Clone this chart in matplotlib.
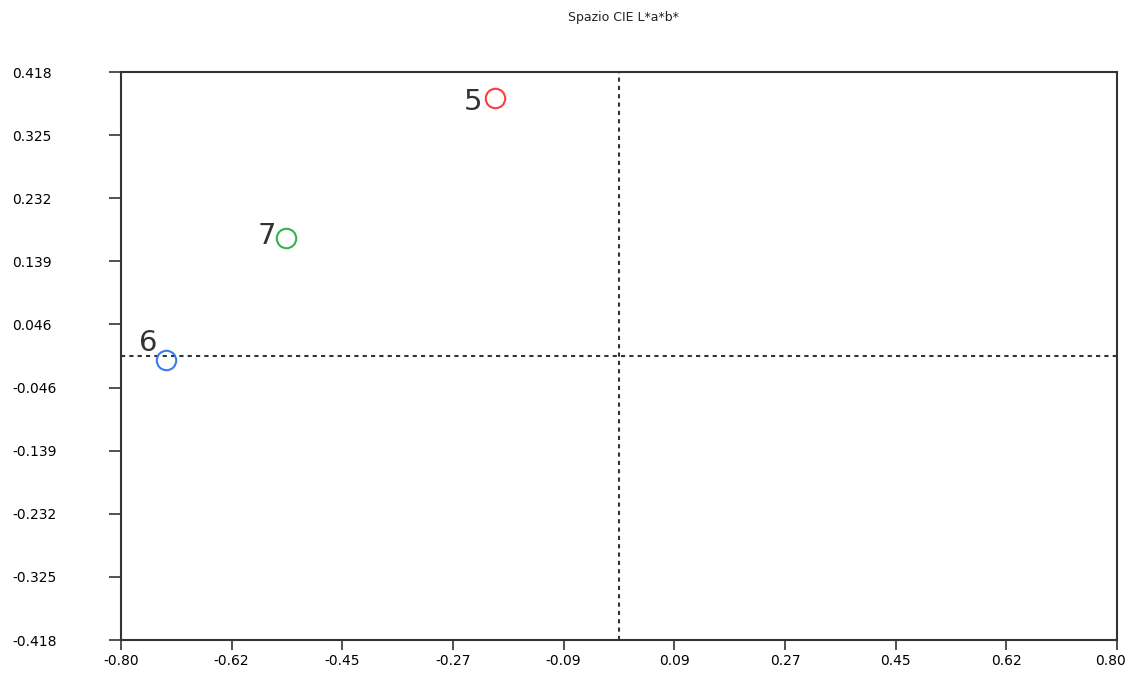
import matplotlib
matplotlib.use("Agg")
import matplotlib.pyplot as plt
import matplotlib.transforms as mtransforms
import numpy as np

# Data
labels = ["5", "7", "6"]
a_vals = [-0.199, -0.535, -0.728]
b_vals = [0.380, 0.174, -0.006]
colors = ["#ff3b3b", "#2fb54a", "#3a7af0"]
label_offsets = [(-16, -3), (-14, 1), (-13, 12)]

xticks = np.linspace(-0.80, 0.80, 10)
xticklabels = ["-0.80", "-0.62", "-0.45", "-0.27", "-0.09", "0.09", "0.27", "0.45", "0.62", "0.80"]
yticks = np.linspace(0.418, -0.418, 10)
yticklabels = ["0.418", "0.325", "0.232", "0.139", "0.046", "-0.046", "-0.139", "-0.232", "-0.325", "-0.418"]

narrow = ["DejaVu Sans Condensed", "DejaVu Sans"]

fig = plt.figure(figsize=(11.28, 6.77), dpi=100)
ax = fig.add_axes([121/1128, 37/677, (1117-121)/1128, (640-72)/677])
ax.set_xlim(-0.80, 0.80)
ax.set_ylim(-0.418, 0.418)

ax.axvline(0, color="#333333", lw=1.5, ls=(0, (2, 2)))
ax.axhline(0, color="#333333", lw=1.5, ls=(0, (2, 2)))

for lab, x, y, c, off in zip(labels, a_vals, b_vals, colors, label_offsets):
    ax.plot(x, y, marker="o", ms=14, mfc="none", mec=c, mew=1.5, ls="none")
    ax.annotate(lab, (x, y), xytext=off, textcoords="offset points",
                ha="center", va="center", fontsize=21, color="#333333",
                family="DejaVu Sans")

ax.set_xticks(xticks)
ax.set_xticklabels(xticklabels, family=narrow, fontsize=10)
ax.set_yticks(yticks)
ax.set_yticklabels(yticklabels, family=narrow, fontsize=10)
ax.tick_params(axis="x", direction="out", length=7, width=1.2, pad=3, color="#333333")
ax.tick_params(axis="y", direction="out", length=9, width=1.2, pad=0, color="#333333")
for lbl in ax.get_yticklabels():
    lbl.set_x(-109/996)
    lbl.set_transform(ax.get_yaxis_transform())
    lbl.set_horizontalalignment("left")

# keep the last x label inside the canvas, as in the reference
last = ax.get_xticklabels()[-1]
last.set_horizontalalignment("right")
last.set_transform(last.get_transform() + mtransforms.ScaledTranslation(9/100, 0, fig.dpi_scale_trans))

for s in ax.spines.values():
    s.set_color("#333333")
    s.set_linewidth(1.5)

fig.text(623/1128, 1 - 18/677, "Spazio CIE L*a*b*", ha="center", va="center",
         fontsize=9, family=narrow, color="#222222")

fig.savefig("out.png", dpi=100, facecolor="white")
